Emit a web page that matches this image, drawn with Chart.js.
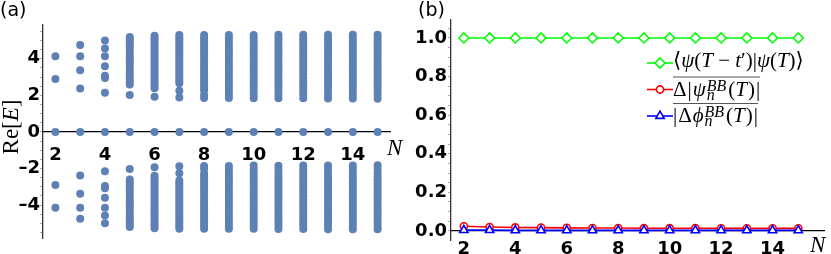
<!DOCTYPE html>
<html>
<head>
<meta charset="utf-8">
<script src="https://cdn.jsdelivr.net/npm/chart.js@4.4.1/dist/chart.umd.min.js"></script>
<style>
  html, body { margin: 0; padding: 0; background: #fff; }
  #wrap { position: relative; width: 831px; height: 254px; overflow: hidden; }
  #chartA { position: absolute; left: 0; top: 0; }
  #chartB { position: absolute; left: 415px; top: 0; }
</style>
</head>
<body>
<div id="wrap">
  <canvas id="chartA" width="415" height="254"></canvas>
  <canvas id="chartB" width="416" height="254"></canvas>
</div>
<script>
// ---- panel (a): Re[E] levels for each N ----
const sizesA = [2, 3, 4, 5, 6, 7, 8, 9, 10, 11, 12, 13, 14, 15];
const eN2 = [-4.14, -2.9, 0, 2.9, 4.14];
const eN3 = [-4.75, -4.14, -3.38, -2.38, 0, 2.38, 3.38, 4.14, 4.75];
const eN4 = [-5.0, -4.57, -4.14, -3.6, -3.08, -2.95, -2.15, 0, 2.15, 2.95, 3.08, 3.6, 4.14, 4.57, 5.0];
const eN5 = [-5.2, -5.06, -4.93, -4.8, -4.66, -4.5, -4.33, -4.14, -4.03, -3.89, -3.75, -3.57, -3.39, -3.22, -3.06, -2.9, -2.75, -2.6, -2.02, 0,
  2.02, 2.6, 2.75, 2.9, 3.06, 3.22, 3.39, 3.57, 3.75, 3.89, 4.03, 4.14, 4.33, 4.5, 4.66, 4.8, 4.93, 5.06, 5.2];
const eN6 = [-5.26, -5.12, -4.98, -4.84, -4.7, -4.56, -4.42, -4.28, -4.14, -4.0, -3.85, -3.7, -3.55, -3.4, -3.25, -3.1, -2.95, -2.8, -2.66, -2.52, -2.39, -1.93, 0,
  1.93, 2.39, 2.52, 2.66, 2.8, 2.95, 3.1, 3.25, 3.4, 3.55, 3.7, 3.85, 4.0, 4.14, 4.28, 4.42, 4.56, 4.7, 4.84, 4.98, 5.12, 5.26];
const eN7 = [-5.3, -5.17, -5.04, -4.9, -4.76, -4.62, -4.48, -4.34, -4.2, -4.06, -3.92, -3.78, -3.64, -3.5, -3.36, -3.22, -3.08, -2.94, -2.8, -2.66, -2.26, -1.88, 0,
  1.88, 2.26, 2.66, 2.8, 2.94, 3.08, 3.22, 3.36, 3.5, 3.64, 3.78, 3.92, 4.06, 4.2, 4.34, 4.48, 4.62, 4.76, 4.9, 5.04, 5.17, 5.3];
const eN8 = [-5.3, -5.15, -5.0, -4.84, -4.68, -4.52, -4.36, -4.2, -4.04, -3.88, -3.72, -3.56, -3.4, -3.24, -3.08, -2.92, -2.76, -2.6, -2.44, -2.28, -2.02, -1.86, 0,
  1.86, 2.02, 2.28, 2.44, 2.6, 2.76, 2.92, 3.08, 3.24, 3.4, 3.56, 3.72, 3.88, 4.04, 4.2, 4.36, 4.52, 4.68, 4.84, 5.0, 5.15, 5.3];
const eN9 = [-5.3, -5.12, -4.94, -4.76, -4.58, -4.4, -4.22, -4.04, -3.86, -3.68, -3.5, -3.32, -3.14, -2.96, -2.78, -2.6, -2.42, -2.24, -2.06, -1.86, 0,
  1.86, 2.06, 2.24, 2.42, 2.6, 2.78, 2.96, 3.14, 3.32, 3.5, 3.68, 3.86, 4.04, 4.22, 4.4, 4.58, 4.76, 4.94, 5.12, 5.3];
const eN10 = [-5.3, -5.12, -4.94, -4.76, -4.58, -4.4, -4.22, -4.04, -3.86, -3.68, -3.5, -3.32, -3.14, -2.96, -2.78, -2.6, -2.42, -2.24, -2.04, -1.84, 0,
  1.84, 2.04, 2.24, 2.42, 2.6, 2.78, 2.96, 3.14, 3.32, 3.5, 3.68, 3.86, 4.04, 4.22, 4.4, 4.58, 4.76, 4.94, 5.12, 5.3];
const eN11 = [-5.31, -5.13, -4.95, -4.77, -4.59, -4.41, -4.23, -4.05, -3.87, -3.69, -3.51, -3.33, -3.15, -2.97, -2.79, -2.61, -2.43, -2.25, -2.05, -1.85, 0,
  1.85, 2.05, 2.25, 2.43, 2.61, 2.79, 2.97, 3.15, 3.33, 3.51, 3.69, 3.87, 4.05, 4.23, 4.41, 4.59, 4.77, 4.95, 5.13, 5.31];
const eN12 = [-5.31, -5.13, -4.95, -4.77, -4.59, -4.41, -4.23, -4.05, -3.87, -3.69, -3.51, -3.33, -3.15, -2.97, -2.79, -2.61, -2.43, -2.25, -2.05, -1.84, 0,
  1.84, 2.05, 2.25, 2.43, 2.61, 2.79, 2.97, 3.15, 3.33, 3.51, 3.69, 3.87, 4.05, 4.23, 4.41, 4.59, 4.77, 4.95, 5.13, 5.31];
const eN13 = [-5.32, -5.14, -4.96, -4.78, -4.6, -4.42, -4.24, -4.06, -3.88, -3.7, -3.52, -3.34, -3.16, -2.98, -2.8, -2.62, -2.44, -2.24, -2.04, -1.83, 0,
  1.83, 2.04, 2.24, 2.44, 2.62, 2.8, 2.98, 3.16, 3.34, 3.52, 3.7, 3.88, 4.06, 4.24, 4.42, 4.6, 4.78, 4.96, 5.14, 5.32];
const eN14 = [-5.32, -5.14, -4.96, -4.78, -4.6, -4.42, -4.24, -4.06, -3.88, -3.7, -3.52, -3.34, -3.16, -2.98, -2.8, -2.62, -2.44, -2.24, -2.03, -1.83, 0,
  1.83, 2.03, 2.24, 2.44, 2.62, 2.8, 2.98, 3.16, 3.34, 3.52, 3.7, 3.88, 4.06, 4.24, 4.42, 4.6, 4.78, 4.96, 5.14, 5.32];
const eN15 = [-5.32, -5.14, -4.96, -4.78, -4.6, -4.42, -4.24, -4.06, -3.88, -3.7, -3.52, -3.34, -3.16, -2.98, -2.8, -2.62, -2.44, -2.24, -2.03, -1.82, 0,
  1.82, 2.03, 2.24, 2.44, 2.62, 2.8, 2.98, 3.16, 3.34, 3.52, 3.7, 3.88, 4.06, 4.24, 4.42, 4.6, 4.78, 4.96, 5.14, 5.32];
const spectraA = [eN2, eN3, eN4, eN5, eN6, eN7, eN8, eN9, eN10, eN11, eN12, eN13, eN14, eN15];

const xTicksA = [2, 3, 4, 5, 6, 7, 8, 9, 10, 11, 12, 13, 14, 15];
const xLabelsA = [2, 4, 6, 8, 10, 12, 14];
const yTicksA = [-5.5, -5, -4.5, -4, -3.5, -3, -2.5, -2, -1.5, -1, -0.5, 0, 0.5, 1, 1.5, 2, 2.5, 3, 3.5, 4, 4.5, 5, 5.5];
const yLabelsA = [-4, -2, 0, 2, 4];

// ---- panel (b): three quantities vs N ----
const sizesB = [2, 3, 4, 5, 6, 7, 8, 9, 10, 11, 12, 13, 14, 15];
const overlapVals = [1, 1, 1, 1, 1, 1, 1, 1, 1, 1, 1, 1, 1, 1];
const dPsiVals = [0.024, 0.02, 0.018, 0.017, 0.016, 0.015, 0.015, 0.014, 0.014, 0.014, 0.013, 0.013, 0.013, 0.013];
const dPhiVals = [0.004, 0.004, 0.003, 0.003, 0.003, 0.003, 0.003, 0.003, 0.003, 0.003, 0.003, 0.003, 0.003, 0.003];

const xTicksB = [2, 3, 4, 5, 6, 7, 8, 9, 10, 11, 12, 13, 14, 15, 16];
const xLabelsB = [2, 4, 6, 8, 10, 12, 14];
const yTicksB = [0, 0.05, 0.1, 0.15, 0.2, 0.25, 0.3, 0.35, 0.4, 0.45, 0.5, 0.55, 0.6, 0.65, 0.7, 0.75, 0.8, 0.85, 0.9, 0.95, 1.0, 1.05];
const yLabelsB = [0, 0.2, 0.4, 0.6, 0.8, 1.0];

const tickFont = { family: 'DejaVu Sans', weight: 'bold', size: 18 };
const mathFamily = '"Liberation Serif", "DejaVu Serif", serif';
const dotColor = '#5e81b5';

// helpers
function withMinus(v) { return v < 0 ? '\u2013' + Math.abs(v) : String(v); }
function hasValue(list, v) { return list.some(t => Math.abs(t - v) < 1e-6); }
function setTicks(list) {
    return scale => { scale.ticks = list.map(v => ({ value: v })); };
}

// draws a line of math-like text; parts are plain/italic runs or a sub/sup stack
function drawRich(ctx, x, y, parts, size) {
    const small = Math.round(size * 0.78);
    for (const p of parts) {
        if (p.sub !== undefined) {
            ctx.font = `italic ${small}px ${mathFamily}`;
            const w1 = ctx.measureText(p.sub).width;
            const w2 = ctx.measureText(p.sup).width;
            ctx.fillText(p.sub, x + 1, y + size * 0.2);
            ctx.fillText(p.sup, x + 1, y - size * 0.22);
            x += Math.max(w1, w2) + 3;
        } else {
            ctx.font = `${p.it ? 'italic ' : ''}${size}px ${mathFamily}`;
            ctx.fillText(p.t, x, y);
            x += ctx.measureText(p.t).width + (p.gap || 0);
        }
    }
    return x;
}

function drawMarker(ctx, style, x, y, r) {
    ctx.beginPath();
    if (style === 'rectRot') {
        ctx.moveTo(x, y - r); ctx.lineTo(x + r, y); ctx.lineTo(x, y + r); ctx.lineTo(x - r, y);
        ctx.closePath();
    } else if (style === 'triangle') {
        ctx.moveTo(x, y - r); ctx.lineTo(x + r * 0.87, y + r * 0.5); ctx.lineTo(x - r * 0.87, y + r * 0.5);
        ctx.closePath();
    } else {
        ctx.arc(x, y, r, 0, Math.PI * 2);
    }
    ctx.fill();
    ctx.stroke();
}

// ---- chart (a) ----
const pointsA = [];
sizesA.forEach((n, i) => {
    spectraA[i].forEach(e => pointsA.push({ x: n, y: e }));
});

const labelsA = {
    id: 'labelsA',
    afterDraw(chart) {
        const ctx = chart.ctx;
        const area = chart.chartArea;
        const y0 = chart.scales.y.getPixelForValue(0);
        ctx.save();
        ctx.fillStyle = '#000';
        ctx.textBaseline = 'alphabetic';
        ctx.font = '19px "DejaVu Sans"';
        ctx.fillText('(a)', 0, 16);
        // axis variable N
        ctx.font = `italic 23px ${mathFamily}`;
        ctx.fillText('N', area.right - 3, y0 + 23);
        // Re[E] rotated
        ctx.translate(18, 127);
        ctx.rotate(-Math.PI / 2);
        ctx.font = `23px ${mathFamily}`;
        const w1 = ctx.measureText('Re[').width;
        ctx.font = `italic 23px ${mathFamily}`;
        const w2 = ctx.measureText('E').width;
        ctx.font = `23px ${mathFamily}`;
        const w3 = ctx.measureText(']').width;
        let x = -(w1 + w2 + w3) / 2;
        ctx.fillText('Re[', x, 0); x += w1;
        ctx.font = `italic 23px ${mathFamily}`;
        ctx.fillText('E', x, 0); x += w2;
        ctx.font = `23px ${mathFamily}`;
        ctx.fillText(']', x, 0);
        ctx.restore();
    }
};

new Chart(document.getElementById('chartA'), {
    type: 'scatter',
    data: {
        datasets: [{
            label: 'Re[E]',
            data: pointsA,
            pointRadius: 4,
            pointHoverRadius: 4,
            pointBorderWidth: 0,
            pointBackgroundColor: dotColor,
            borderColor: dotColor,
            showLine: false
        }]
    },
    options: {
        responsive: false,
        animation: false,
        events: [],
        layout: { padding: { top: 25, bottom: 16, left: 0, right: 25 } },
        plugins: { legend: { display: false }, tooltip: { enabled: false } },
        scales: {
            x: {
                type: 'linear', min: 1.5, max: 15.5,
                position: { y: 0 },
                afterBuildTicks: setTicks(xTicksA),
                grid: { display: false },
                border: { color: '#000', width: 1.3 },
                ticks: {
                    autoSkip: false, maxRotation: 0, padding: 5,
                    color: '#000', font: tickFont,
                    callback: v => hasValue(xLabelsA, v) ? String(v) : ''
                }
            },
            y: {
                type: 'linear', min: -5.8, max: 5.85,
                afterFit(scale) { scale.width = 43; },
                afterBuildTicks: setTicks(yTicksA),
                grid: { drawOnChartArea: false, tickLength: 3, color: '#aaa' },
                border: { color: '#333', width: 1.3 },
                ticks: {
                    autoSkip: false, padding: 0,
                    color: '#000', font: tickFont,
                    callback: v => hasValue(yLabelsA, v) ? withMinus(v) : ''
                }
            }
        }
    },
    plugins: [labelsA]
});

// ---- chart (b) ----
const seriesB = [
    { label: '<psi(T-t\')|psi(T)>', values: overlapVals, color: '#00ff00', style: 'rectRot', r: 5, order: 2 },
    { label: 'Delta|psi_n^BB(T)|', values: dPsiVals, color: '#ff0000', style: 'circle', r: 3.6, order: 1 },
    { label: '|Delta phi_n^BB(T)|', values: dPhiVals, color: '#0000ff', style: 'triangle', r: 4.8, order: 0 }
];

const legendRows = [
    [{ t: '\u27E8' }, { t: '\u03C8', it: true }, { t: '(' }, { t: 'T', it: true }, { t: ' \u2212 ' }, { t: 't', it: true }, { t: '\u2032' }, { t: ')|' },
     { t: '\u03C8', it: true }, { t: '(' }, { t: 'T', it: true }, { t: ')\u27E9' }],
    [{ t: '\u0394', gap: 1 }, { t: '|', gap: 1 }, { t: '\u03C8', it: true }, { sub: 'n', sup: 'BB' }, { t: '(' }, { t: 'T', it: true, gap: 1 }, { t: ')', gap: 1 }, { t: '|' }],
    [{ t: '|', gap: 1 }, { t: '\u0394', gap: 1 }, { t: '\u03D5', it: true }, { sub: 'n', sup: 'BB' }, { t: '(' }, { t: 'T', it: true, gap: 1 }, { t: ')', gap: 1 }, { t: '|' }]
];
const legendBase = [67, 96, 122];

const labelsB = {
    id: 'labelsB',
    afterDraw(chart) {
        const ctx = chart.ctx;
        const area = chart.chartArea;
        const y0 = chart.scales.y.getPixelForValue(0);
        ctx.save();
        ctx.fillStyle = '#000';
        ctx.textBaseline = 'alphabetic';
        ctx.font = '19px "DejaVu Sans"';
        ctx.fillText('(b)', 3, 16);
        ctx.font = `italic 23px ${mathFamily}`;
        ctx.fillText('N', area.right - 14, y0 + 21);

        // legend
        const rowY = [63, 89.5, 116];
        seriesB.forEach((s, i) => {
            const y = rowY[i];
            ctx.strokeStyle = s.color;
            ctx.lineWidth = 1.6;
            ctx.beginPath();
            ctx.moveTo(232, y); ctx.lineTo(258, y);
            ctx.stroke();
            ctx.fillStyle = '#fff';
            drawMarker(ctx, s.style, 245, y, s.r);
            ctx.fillStyle = '#000';
            const xEnd = drawRich(ctx, 258, legendBase[i], legendRows[i], 21);
            if (i > 0) {
                ctx.strokeStyle = '#555';
                ctx.lineWidth = 1;
                ctx.beginPath();
                ctx.moveTo(258, y - 12.5); ctx.lineTo(xEnd, y - 12.5);
                ctx.stroke();
            }
        });
        ctx.restore();
    }
};

new Chart(document.getElementById('chartB'), {
    type: 'line',
    data: {
        datasets: seriesB.map(s => ({
            label: s.label,
            data: sizesB.map((n, i) => ({ x: n, y: s.values[i] })),
            borderColor: s.color,
            borderWidth: 1.6,
            pointStyle: s.style,
            pointRadius: s.r,
            pointHoverRadius: s.r,
            pointBorderWidth: 1.6,
            pointBorderColor: s.color,
            pointBackgroundColor: '#fff',
            fill: false,
            tension: 0,
            order: s.order
        }))
    },
    options: {
        responsive: false,
        animation: false,
        events: [],
        layout: { padding: { top: 20, bottom: 14, left: 0, right: 7 } },
        plugins: { legend: { display: false }, tooltip: { enabled: false } },
        scales: {
            x: {
                type: 'linear', min: 1.5, max: 16,
                position: { y: 0 },
                afterBuildTicks: setTicks(xTicksB),
                grid: { display: false },
                border: { color: '#000', width: 1.3 },
                ticks: {
                    autoSkip: false, maxRotation: 0, padding: 0,
                    color: '#000', font: tickFont,
                    callback: v => hasValue(xLabelsB, v) ? String(v) : ''
                }
            },
            y: {
                type: 'linear', min: -0.047, max: 1.093,
                afterFit(scale) { scale.width = 36; },
                afterBuildTicks: setTicks(yTicksB),
                grid: { drawOnChartArea: false, tickLength: 3, color: '#aaa' },
                border: { color: '#333', width: 1.3 },
                ticks: {
                    autoSkip: false, padding: 1,
                    color: '#000', font: tickFont,
                    callback: v => hasValue(yLabelsB, v) ? v.toFixed(1) : ''
                }
            }
        }
    },
    plugins: [labelsB]
});
</script>
</body>
</html>
